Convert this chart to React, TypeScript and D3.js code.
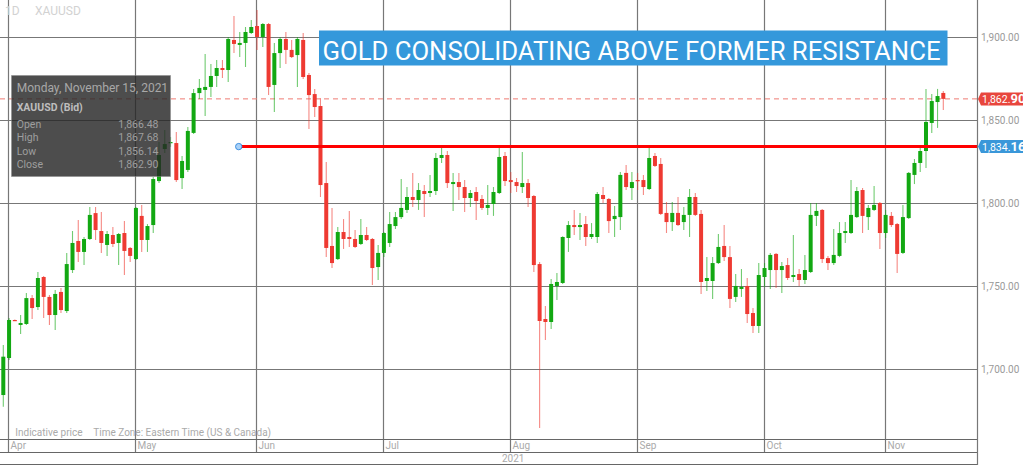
import React from "react";
import * as d3 from "d3";

// ---- Data (XAUUSD daily, 31 Mar 2021 – 15 Nov 2021, one value per weekday) ----
const opens = [
  1684.5, 1706.8, 1729.7, 1726.7, 1727.3, 1742.9, 1737.5, 1755.6, 1743.6, 1732.7,
  1746.6, 1735.1, 1759.8, 1777.3, 1770.7, 1778.5, 1794.1, 1783.3, 1774.9, 1780.9,
  1776.1, 1782.1, 1773.1, 1766.4, 1792.4, 1777.9, 1786.9, 1813.4, 1832.7, 1836.3,
  1836.3, 1815.2, 1820.1, 1842.4, 1866.4, 1868.3, 1870.1, 1876.7, 1881.5, 1880.3,
  1898.4, 1895.4, 1896.6, 1902.6, 1906.8, 1900.2, 1908.0, 1871.3, 1890.5, 1899.0,
  1892.4, 1889.3, 1898.4, 1877.3, 1865.8, 1858.6, 1812.2, 1774.3, 1766.4, 1782.7,
  1779.7, 1778.5, 1775.5, 1780.9, 1778.5, 1761.6, 1770.1, 1776.1, 1786.3, 1791.7,
  1796.0, 1803.8, 1802.0, 1807.4, 1806.2, 1807.4, 1827.3, 1829.1, 1811.6, 1812.8,
  1809.8, 1803.2, 1806.8, 1802.6, 1797.2, 1799.6, 1806.2, 1828.5, 1814.0, 1812.8,
  1809.8, 1812.2, 1804.4, 1763.4, 1730.3, 1728.5, 1750.2, 1752.0, 1779.1, 1786.9,
  1785.7, 1787.5, 1779.7, 1779.7, 1805.0, 1802.6, 1790.5, 1791.7, 1818.3, 1809.2,
  1814.0, 1814.0, 1808.6, 1828.5, 1823.7, 1794.2, 1788.7, 1794.2, 1788.7, 1793.0,
  1803.8, 1793.6, 1753.2, 1753.2, 1764.0, 1774.3, 1767.6, 1743.6, 1748.4, 1750.2,
  1733.9, 1726.1, 1755.6, 1759.8, 1769.5, 1759.8, 1762.8, 1755.6, 1757.4, 1753.8,
  1758.6, 1792.4, 1796.0, 1767.0, 1764.0, 1768.3, 1782.1, 1782.1, 1791.7, 1808.0,
  1791.7, 1796.0, 1800.2, 1782.1, 1792.4, 1787.5, 1770.1, 1791.1, 1817.1, 1824.3,
  1831.5, 1848.4, 1861.0, 1866.48,
];
const highs = [
  1714.6, 1730.9, 1730.0, 1732.7, 1746.0, 1744.8, 1758.6, 1756.2, 1744.8, 1747.8,
  1749.0, 1770.1, 1783.3, 1790.0, 1779.7, 1797.8, 1797.8, 1794.8, 1783.3, 1785.7,
  1782.1, 1789.3, 1773.7, 1797.8, 1799.0, 1787.5, 1815.8, 1837.0, 1844.2, 1839.9,
  1843.0, 1828.5, 1846.0, 1868.9, 1874.9, 1890.0, 1883.9, 1886.3, 1886.3, 1900.2,
  1912.8, 1903.2, 1906.2, 1910.4, 1916.4, 1908.6, 1908.6, 1896.6, 1900.2, 1903.2,
  1898.4, 1900.2, 1902.6, 1878.5, 1868.9, 1863.4, 1824.9, 1797.2, 1785.7, 1790.5,
  1795.4, 1783.9, 1790.5, 1785.7, 1779.1, 1774.9, 1782.7, 1794.8, 1794.8, 1814.6,
  1809.8, 1818.3, 1812.2, 1811.0, 1817.1, 1830.3, 1833.9, 1831.5, 1818.3, 1818.3,
  1814.0, 1808.0, 1809.8, 1805.0, 1811.0, 1809.8, 1833.3, 1830.9, 1818.9, 1815.2,
  1830.9, 1814.6, 1805.0, 1764.6, 1738.1, 1754.4, 1758.0, 1780.2, 1789.3, 1796.0,
  1794.2, 1792.4, 1788.1, 1806.8, 1809.8, 1803.2, 1798.4, 1818.9, 1823.1, 1818.9,
  1818.3, 1817.1, 1833.9, 1830.3, 1827.3, 1800.8, 1800.8, 1803.8, 1797.8, 1808.6,
  1806.2, 1796.0, 1767.6, 1767.6, 1781.5, 1786.9, 1774.3, 1757.4, 1760.4, 1755.0,
  1736.9, 1764.0, 1764.0, 1770.1, 1770.1, 1764.6, 1767.0, 1780.9, 1760.4, 1768.9,
  1800.2, 1800.2, 1796.6, 1768.3, 1784.5, 1788.7, 1788.7, 1814.0, 1809.8, 1809.2,
  1799.0, 1810.4, 1800.8, 1796.0, 1794.8, 1788.1, 1799.0, 1818.8, 1826.7, 1834.5,
  1868.9, 1865.8, 1868.9, 1867.68,
];
const lows = [
  1677.5, 1705.6, 1729.3, 1721.3, 1726.7, 1730.3, 1735.7, 1730.9, 1726.7, 1723.7,
  1733.9, 1733.9, 1758.0, 1764.6, 1762.8, 1777.9, 1777.9, 1770.1, 1768.3, 1773.7,
  1762.8, 1756.8, 1764.6, 1765.8, 1770.7, 1770.7, 1782.1, 1812.2, 1830.3, 1834.0,
  1812.8, 1808.6, 1818.9, 1841.8, 1862.8, 1852.6, 1864.0, 1870.1, 1875.5, 1873.1,
  1890.5, 1888.1, 1882.1, 1902.0, 1892.4, 1894.2, 1865.2, 1855.0, 1881.5, 1883.9,
  1887.5, 1870.1, 1874.9, 1844.8, 1852.0, 1803.8, 1767.6, 1761.0, 1765.8, 1772.5,
  1773.7, 1773.1, 1774.9, 1777.3, 1750.8, 1753.8, 1767.6, 1773.7, 1784.5, 1790.5,
  1794.2, 1797.8, 1796.0, 1791.7, 1803.8, 1805.0, 1824.3, 1809.2, 1795.4, 1802.0,
  1794.8, 1797.8, 1790.0, 1796.0, 1793.0, 1792.4, 1805.6, 1810.4, 1806.2, 1806.8,
  1806.2, 1797.8, 1758.6, 1664.6, 1717.6, 1724.3, 1741.8, 1751.4, 1770.7, 1780.9,
  1777.9, 1774.3, 1778.5, 1776.1, 1800.2, 1782.1, 1779.7, 1783.9, 1808.0, 1802.0,
  1808.0, 1805.0, 1808.0, 1821.9, 1793.0, 1782.1, 1783.3, 1786.3, 1783.9, 1779.7,
  1792.4, 1745.4, 1747.2, 1742.4, 1763.4, 1765.2, 1736.9, 1740.6, 1743.6, 1727.9,
  1721.9, 1721.9, 1749.6, 1748.4, 1749.0, 1746.0, 1753.8, 1752.6, 1750.2, 1751.4,
  1758.0, 1786.3, 1764.0, 1759.8, 1762.8, 1767.6, 1776.1, 1781.5, 1791.2, 1782.1,
  1783.9, 1795.4, 1772.5, 1779.1, 1785.7, 1758.0, 1769.5, 1790.5, 1811.6, 1818.9,
  1821.3, 1842.4, 1845.4, 1856.14,
];
const closes = [
  1707.6, 1729.7, 1729.5, 1727.9, 1742.9, 1736.9, 1755.0, 1743.6, 1732.7, 1745.4,
  1735.7, 1763.4, 1776.1, 1770.7, 1778.5, 1793.0, 1783.9, 1776.1, 1781.5, 1775.5,
  1781.5, 1771.3, 1768.3, 1797.2, 1777.9, 1786.3, 1814.6, 1829.1, 1835.7, 1836.9,
  1814.0, 1825.5, 1843.6, 1866.4, 1869.5, 1870.1, 1876.7, 1881.5, 1880.3, 1899.0,
  1896.0, 1896.6, 1903.2, 1906.2, 1900.2, 1908.0, 1870.1, 1890.5, 1899.0, 1892.4,
  1888.1, 1899.0, 1876.1, 1865.2, 1858.0, 1811.0, 1773.1, 1764.0, 1782.7, 1778.5,
  1778.5, 1773.7, 1780.9, 1777.9, 1761.0, 1770.1, 1782.1, 1787.5, 1791.7, 1797.2,
  1803.8, 1802.0, 1808.0, 1805.6, 1807.4, 1827.3, 1829.1, 1812.2, 1812.8, 1809.8,
  1803.2, 1806.2, 1801.4, 1797.2, 1799.0, 1806.8, 1827.9, 1813.4, 1812.8, 1810.4,
  1812.2, 1803.2, 1762.8, 1729.1, 1728.5, 1751.4, 1752.6, 1779.7, 1786.9, 1785.7,
  1786.9, 1779.7, 1781.5, 1805.6, 1802.6, 1789.3, 1792.4, 1817.1, 1809.8, 1812.8,
  1813.4, 1809.8, 1827.3, 1822.5, 1793.6, 1788.7, 1794.2, 1786.9, 1793.0, 1803.8,
  1793.0, 1752.6, 1755.0, 1764.0, 1773.7, 1767.6, 1742.4, 1750.2, 1749.6, 1733.3,
  1726.1, 1756.8, 1761.0, 1768.9, 1759.8, 1762.2, 1755.0, 1756.8, 1753.8, 1759.8,
  1793.0, 1795.4, 1766.4, 1764.0, 1768.9, 1782.1, 1783.3, 1793.0, 1807.4, 1792.4,
  1797.2, 1799.0, 1782.1, 1793.0, 1786.9, 1769.5, 1791.7, 1818.3, 1824.3, 1831.5,
  1849.0, 1861.6, 1864.6, 1862.90,
];
const monthLabels = ["Apr", "May", "Jun", "Jul", "Aug", "Sep", "Oct", "Nov"];
const monthNumbers = [3, 4, 5, 6, 7, 8, 9, 10];
const priceTicks = [1700, 1750, 1800, 1850, 1900];
const resistanceLevel = 1834.16;
const resistanceStartIndex = 41;
const symbol = "XAUUSD";
const periodLabel = "1D";
const yearLabel = "2021";
const titleText = "GOLD CONSOLIDATING ABOVE FORMER RESISTANCE";
const footnote1 = "Indicative price";
const footnote2 = "Time Zone: Eastern Time (US & Canada)";

// weekday calendar 31 Mar 2021 .. 15 Nov 2021
const dates = d3
  .timeDay.range(new Date(2021, 2, 31), new Date(2021, 10, 16))
  .filter((d) => d.getDay() !== 0 && d.getDay() !== 6);

const W = 1024;
const H = 465;
const AXIS_X = 977.5;
const PLOT_BOTTOM = 439.5;

const FONT = "Roboto, 'Liberation Sans', Arial, sans-serif";
const UP = "#12a812";
const DOWN = "#ee3a32";

export default function App() {
  const n = opens.length;
  const x = d3.scaleLinear().domain([0, n - 1]).range([3.3, 943.3]);
  const y = d3.scaleLinear().domain([1700, 1900]).range([369.3, 37.3]);
  const fmt = d3.format(",.2f");
  const last = n - 1;
  const lastClose = closes[last];
  const dateFmt = d3.timeFormat("%A, %B %-d, %Y");

  const monthX = monthNumbers.map((m) => {
    const idx = dates.findIndex((d) => d.getMonth() === m);
    return Math.round(x(idx) - 1) + 0.5;
  });

  const priceTag = (value: number, color: string) => {
    const yc = y(value);
    const s = fmt(value);
    const main = s.slice(0, -2);
    const dec = s.slice(-2);
    return (
      <g>
        <path
          d={`M${AXIS_X + 0.5},${yc} L${AXIS_X + 3.5},${yc - 6.5} L1023,${yc - 6.5} L1023,${yc + 6.5} L${AXIS_X + 3.5},${yc + 6.5} Z`}
          fill={color}
        />
        <text x={982} y={yc + 4} fill="#fff" fontFamily={FONT} fontSize={10.5}>
          {main}
          <tspan fontWeight="bold" fontSize={13}>
            {dec}
          </tspan>
        </text>
      </g>
    );
  };

  const rows = [
    ["Open", opens[last]],
    ["High", highs[last]],
    ["Low", lows[last]],
    ["Close", closes[last]],
  ] as [string, number][];
  const rowY = [128, 141, 155, 168.3];

  return (
    <svg
      width={W}
      height={H}
      style={{ position: "absolute", left: 0, top: 0, background: "#fff" }}
    >
      <rect x={0} y={0} width={W} height={H} fill="#fff" />
      {/* horizontal grid */}
      {priceTicks.map((t) => (
        <line
          key={t}
          x1={0}
          x2={AXIS_X}
          y1={Math.round(y(t)) + 0.5}
          y2={Math.round(y(t)) + 0.5}
          stroke="#777"
          strokeWidth={1.2}
        />
      ))}
      {/* vertical month grid */}
      {monthX.map((mx, i) => (
        <line key={i} x1={mx} x2={mx} y1={0} y2={452.5} stroke="#777" strokeWidth={1.2} />
      ))}
      {/* last price dashed */}
      <line
        x1={0}
        x2={AXIS_X}
        y1={y(lastClose)}
        y2={y(lastClose)}
        stroke="#ef7b73"
        strokeWidth={1}
        strokeDasharray="5,4"
      />
      {/* candles */}
      {opens.map((o, i) => {
        const c = closes[i];
        const up = c >= o;
        const col = up ? UP : DOWN;
        const cx = x(i);
        const top = y(Math.max(o, c));
        const bot = y(Math.min(o, c));
        return (
          <g key={i}>
            <line
              x1={cx}
              x2={cx}
              y1={y(highs[i])}
              y2={y(lows[i])}
              stroke={col}
              strokeOpacity={0.6}
              strokeWidth={1.1}
            />
            <rect x={cx - 2} y={top} width={4} height={Math.max(1.2, bot - top)} fill={col} />
          </g>
        );
      })}
      {/* resistance line */}
      <line
        x1={x(resistanceStartIndex) - 1}
        x2={AXIS_X}
        y1={y(resistanceLevel)}
        y2={y(resistanceLevel)}
        stroke="#ff0000"
        strokeWidth={3}
      />
      <circle
        cx={x(resistanceStartIndex) - 1}
        cy={y(resistanceLevel)}
        r={3.2}
        fill="#a9d1f7"
        stroke="#3d8fe0"
        strokeWidth={1}
      />
      {/* top-left symbol */}
      <text x={5} y={15} fill="#d2d2d2" fontFamily={FONT} fontSize={12}>
        {periodLabel}
      </text>
      <text x={35} y={15} fill="#d2d2d2" fontFamily={FONT} fontSize={12}>
        {symbol}
      </text>
      {/* tooltip */}
      <rect
        x={11.5}
        y={75.5}
        width={159}
        height={101}
        fill="rgb(38,38,38)"
        fillOpacity={0.82}
        stroke="#8a8a8a"
        strokeOpacity={0.5}
      />
      <text x={16.7} y={91.5} fill="#a8a8a8" fontFamily={FONT} fontSize={12}>
        {dateFmt(dates[last])}
      </text>
      <text x={16.7} y={111} fill="#bdbdbd" fontFamily={FONT} fontSize={10.5} fontWeight="bold">
        {symbol} (Bid)
      </text>
      {rows.map(([label, v], i) => (
        <g key={label}>
          <text x={16.7} y={rowY[i]} fill="#9e9e9e" fontFamily={FONT} fontSize={10.5}>
            {label}
          </text>
          <text x={158.5} y={rowY[i]} fill="#9e9e9e" fontFamily={FONT} fontSize={10.5} textAnchor="end">
            {fmt(v)}
          </text>
        </g>
      ))}
      {/* title */}
      <rect x={319} y={30.5} width={628.5} height={35} fill="#3498db" />
      <text
        x={322.5}
        y={60}
        fill="#fff"
        fontFamily={FONT}
        fontSize={25.5}
        textLength={618}
        lengthAdjust="spacingAndGlyphs"
      >
        {titleText}
      </text>
      {/* footnote */}
      <text x={15.3} y={435.5} fill="#aaa" fontFamily={FONT} fontSize={10}>
        {footnote1}
      </text>
      <text x={93.3} y={435.5} fill="#aaa" fontFamily={FONT} fontSize={10}>
        {footnote2}
      </text>
      {/* bottom axis */}
      <line x1={0} x2={AXIS_X} y1={PLOT_BOTTOM} y2={PLOT_BOTTOM} stroke="#666" strokeWidth={1.2} />
      <line x1={0} x2={AXIS_X} y1={452.5} y2={452.5} stroke="#666" strokeWidth={1.2} />
      <line x1={0} x2={AXIS_X} y1={464.5} y2={464.5} stroke="#666" strokeWidth={1.2} />
      {monthLabels.map((m, i) => (
        <text key={m} x={monthX[i] + 2} y={448.5} fill="#aaa" fontFamily={FONT} fontSize={10}>
          {m}
        </text>
      ))}
      <text x={502} y={461.5} fill="#aaa" fontFamily={FONT} fontSize={10}>
        {yearLabel}
      </text>
      {/* right axis */}
      <line x1={AXIS_X} x2={AXIS_X} y1={0} y2={H} stroke="#777" strokeWidth={1.2} />
      {priceTicks.map((t) => (
        <text key={t} x={981} y={y(t) + 3.5} fill="#9a9a9a" fontFamily={FONT} fontSize={10}>
          {fmt(t)}
        </text>
      ))}
      {priceTag(lastClose, "#e8463d")}
      {priceTag(resistanceLevel, "#3a97d9")}
    </svg>
  );
}
